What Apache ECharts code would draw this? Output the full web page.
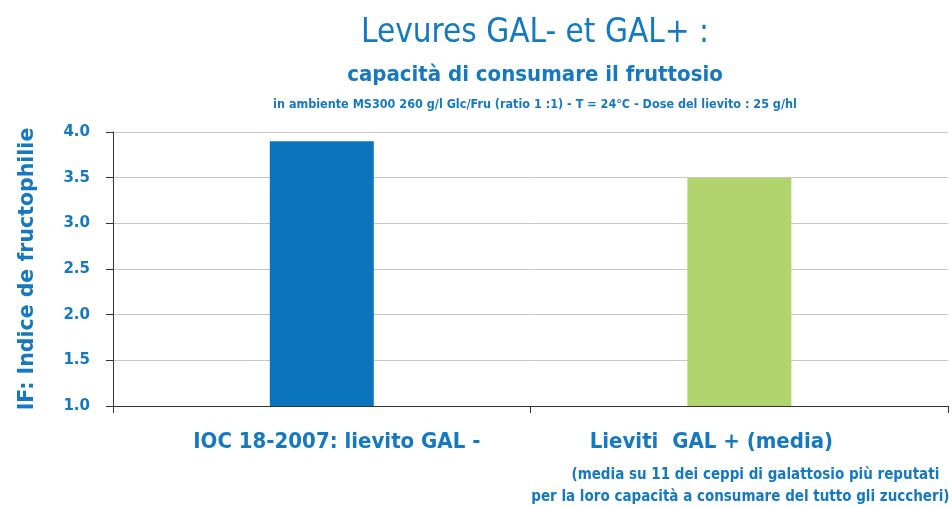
<!DOCTYPE html>
<html><head><meta charset="utf-8">
<script src="https://cdn.jsdelivr.net/npm/echarts@6/dist/echarts.min.js"></script>
<style>html,body{margin:0;padding:0;background:#fff}#c{width:952px;height:507px}</style>
</head><body><div id="c"></div>
<script>
const categories = ['IOC 18-2007: lievito GAL -', 'Lieviti  GAL + (media)'];
const subNotes = ['', '(media su 11 dei ceppi di galattosio più reputati', 'per la loro capacità a consumare del tutto gli zuccheri)'];
const values = [3.9, 3.5];
const barColors = ['#0a75bd', '#b0d46e'];
const yTicks = [1.0, 1.5, 2.0, 2.5, 3.0, 3.5, 4.0];

const blue = '#1479c0';
const narrow = '"Liberation Sans Narrow", "DejaVu Sans Condensed", sans-serif';
const chart = echarts.init(document.getElementById('c'));
chart.setOption({
  backgroundColor: '#fff',
  animation: false,
  title: [
    {text: 'Levures GAL- et GAL+ :', left: 530, textAlign: 'center', top: 12,
     textStyle: {fontFamily: narrow, fontSize: 33, fontWeight: 'normal', color: blue}},
    {text: 'capacità di consumare il fruttosio', left: 530, textAlign: 'center', top: 59,
     textStyle: {fontFamily: narrow, fontSize: 22, fontWeight: 'bold', color: blue}},
    {text: 'in ambiente MS300 260 g/l Glc/Fru (ratio 1 :1) - T = 24°C - Dose del lievito : 25 g/hl', left: 530, textAlign: 'center', top: 93,
     textStyle: {fontFamily: narrow, fontSize: 12.5, fontWeight: 'bold', color: blue}}
  ],
  grid: {left: 113, right: 2, top: 132, bottom: 101, containLabel: false},
  xAxis: {
    type: 'category',
    data: categories,
    axisLine: {lineStyle: {color: '#333'}},
    axisTick: {show: true, length: 7, lineStyle: {color: '#333'}, alignWithLabel: false},
    axisLabel: {
      interval: 0, margin: 14, verticalAlign: 'top',
      formatter: function (v, i) {
        if (i === 0) return '{a|' + v + '}';
        return '{c|' + v + '}\n{b|' + subNotes[1] + '}\n{d|' + subNotes[2] + '}';
      },
      rich: {
        a: {fontFamily: narrow, fontSize: 22, fontWeight: 'bold', color: blue, padding: [0, 0, 0, 30], lineHeight: 44},
        c: {fontFamily: narrow, fontSize: 22, fontWeight: 'bold', color: blue, padding: [0, 56, 0, 0], lineHeight: 44},
        b: {fontFamily: narrow, fontSize: 15, fontWeight: 'bold', color: blue, padding: [0, 0, 0, 32], lineHeight: 22},
        d: {fontFamily: narrow, fontSize: 15, fontWeight: 'bold', color: blue, padding: [0, 0, 0, 2], lineHeight: 22}
      }
    }
  },
  yAxis: {
    type: 'value', min: 1.0, max: 4.0, interval: 0.5,
    name: 'IF: Indice de fructophilie', nameLocation: 'middle', nameGap: 75, nameRotate: 90,
    nameTextStyle: {fontFamily: '"DejaVu Sans", sans-serif', fontSize: 20.5, fontWeight: 'bold', color: blue},
    axisLine: {show: true, lineStyle: {color: '#333'}},
    axisTick: {show: true, length: 7, lineStyle: {color: '#333'}},
    splitLine: {lineStyle: {color: '#c8c8c8'}},
    axisLabel: {margin: 23, fontFamily: '"DejaVu Sans", sans-serif', fontSize: 15, fontWeight: 'bold', color: blue,
      formatter: v => v.toFixed(1)}
  },
  series: [{
    type: 'bar', barWidth: 104,
    data: values.map((v, i) => ({value: v, itemStyle: {color: barColors[i]}}))
  }]
});
</script></body></html>
